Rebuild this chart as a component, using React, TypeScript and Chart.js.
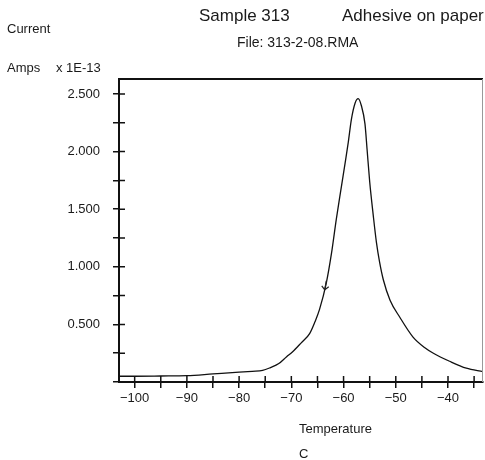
import React, { useEffect, useRef } from "react";
import { Chart, registerables } from "chart.js";

Chart.register(...registerables);

// Temperature (C) and current (x 1E-13 Amps)
const temperatures = [
  -103, -100, -95, -90, -85, -80, -77.5, -75.5, -74, -72.4, -70.9, -69.8, -68.1,
  -66.5, -65.5, -64.6, -63.3, -62.3, -61.4, -60.4, -59.6, -59.1, -58.5, -57.8,
  -57.2, -56.6, -55.9, -55.5, -55.0, -54.3, -53.7, -53.1, -52.4, -51.1, -49.2,
  -46.7, -44.5, -42.8, -39.7, -36.5, -33.3,
];
const currents = [
  0.05, 0.05, 0.052, 0.055, 0.07, 0.085, 0.093, 0.1, 0.125, 0.16, 0.22, 0.26, 0.34,
  0.42, 0.52, 0.63, 0.86, 1.12, 1.41, 1.7, 1.93, 2.08, 2.28, 2.42,
  2.46, 2.4, 2.24, 2.02, 1.74, 1.44, 1.21, 1.04, 0.89, 0.71, 0.56,
  0.39, 0.3, 0.25, 0.18, 0.12, 0.09,
];
// hand-drawn arrow annotation on the curve
const markerTemps = [-63.6];
const markerCurrents = [0.8];

const xMin = -103;
const xMax = -33.3;
const yMin = 0;
const yMax = 2.63;

const FONT = "'Liberation Sans', Arial, Helvetica, sans-serif";

const crossTicks = {
  id: "crossTicks",
  afterDraw(chart: any) {
    const { ctx, chartArea, scales } = chart;
    const x = scales.x;
    const y = scales.y;
    ctx.save();
    ctx.strokeStyle = "#111";
    ctx.lineWidth = 1.5;
    ctx.beginPath();
    x.ticks.forEach((t: any) => {
      const px = x.getPixelForValue(t.value);
      ctx.moveTo(px, chartArea.bottom);
      ctx.lineTo(px, chartArea.bottom - 6);
    });
    y.ticks.forEach((t: any) => {
      if (t.value <= yMin) return;
      const py = y.getPixelForValue(t.value);
      ctx.moveTo(chartArea.left, py);
      ctx.lineTo(chartArea.left + 6, py);
    });
    ctx.stroke();
    // top frame
    ctx.lineWidth = 2;
    ctx.beginPath();
    ctx.moveTo(chartArea.left, chartArea.top);
    ctx.lineTo(chartArea.right, chartArea.top);
    ctx.stroke();
    // right frame (faint)
    ctx.strokeStyle = "#999";
    ctx.lineWidth = 1;
    ctx.beginPath();
    ctx.moveTo(chartArea.right - 0.5, chartArea.top);
    ctx.lineTo(chartArea.right - 0.5, chartArea.bottom);
    ctx.stroke();
    // arrow annotation
    ctx.strokeStyle = "#222";
    ctx.lineWidth = 1.2;
    markerTemps.forEach((mt, i) => {
      const px = x.getPixelForValue(mt);
      const py = y.getPixelForValue(markerCurrents[i]);
      ctx.beginPath();
      ctx.moveTo(px, py);
      ctx.lineTo(px + 1.5, py - 9);
      ctx.moveTo(px, py);
      ctx.lineTo(px - 3, py - 4);
      ctx.moveTo(px, py);
      ctx.lineTo(px + 4, py - 3);
      ctx.stroke();
    });
    ctx.restore();
  },
};

function Label({ text, left, cy, size }: { text: string; left: number; cy: number; size: number }) {
  return (
    <div
      style={{
        position: "absolute",
        left,
        top: cy - size / 2,
        fontFamily: FONT,
        fontSize: size,
        lineHeight: `${size}px`,
        color: "#1a1a1a",
        whiteSpace: "nowrap",
      }}
    >
      {text}
    </div>
  );
}

export default function App() {
  const canvasRef = useRef<HTMLCanvasElement | null>(null);

  useEffect(() => {
    document.body.style.margin = "0";
    const canvas = canvasRef.current;
    if (!canvas) return;
    const chart = new Chart(canvas, {
      type: "line",
      data: {
        datasets: [
          {
            data: temperatures.map((t, i) => ({ x: t, y: currents[i] })),
            borderColor: "#111",
            borderWidth: 1.3,
            pointRadius: 0,
            fill: false,
            cubicInterpolationMode: "monotone",
          },
        ],
      },
      options: {
        animation: false,
        responsive: false,
        maintainAspectRatio: false,
        layout: { padding: { top: 79, right: 2, left: 0, bottom: 0 } },
        plugins: { legend: { display: false }, tooltip: { enabled: false } },
        scales: {
          x: {
            type: "linear",
            min: xMin,
            max: xMax,
            afterFit: (s: any) => {
              s.height = 78;
            },
            border: { display: true, color: "#111", width: 2 },
            grid: {
              display: true,
              drawOnChartArea: false,
              drawTicks: true,
              tickLength: 6,
              color: "#111",
              lineWidth: 1.5,
            },
            ticks: {
              stepSize: 5,
              includeBounds: false,
              autoSkip: false,
              maxRotation: 0,
              padding: 3,
              color: "#1a1a1a",
              font: { family: FONT, size: 13 },
              callback: (v: any) => {
                const n = Number(v);
                if (Math.abs(n % 10) > 1e-6) return "";
                return n < 0 ? "\u2212" + Math.abs(n) : String(n);
              },
            },
          },
          y: {
            type: "linear",
            min: yMin,
            max: yMax,
            afterFit: (s: any) => {
              s.width = 119;
            },
            border: { display: true, color: "#111", width: 2 },
            grid: {
              display: true,
              drawOnChartArea: false,
              drawTicks: true,
              tickLength: 6,
              color: "#111",
              lineWidth: 1.5,
            },
            ticks: {
              stepSize: 0.25,
              includeBounds: false,
              autoSkip: false,
              padding: 13,
              color: "#1a1a1a",
              font: { family: FONT, size: 13 },
              callback: (v: any) => {
                const n = Number(v);
                if (n <= 0) return "";
                if (Math.abs(n * 2 - Math.round(n * 2)) > 1e-6) return "";
                return n.toFixed(3);
              },
            },
          },
        },
      },
      plugins: [crossTicks],
    } as any);
    return () => chart.destroy();
  }, []);

  return (
    <div style={{ position: "relative", width: 485, height: 460, background: "#fff", overflow: "hidden" }}>
      <canvas ref={canvasRef} width={485} height={460} style={{ position: "absolute", left: 0, top: 0, width: 485, height: 460 }} />
      <Label text="Sample 313" left={199} cy={15} size={17} />
      <Label text="Adhesive on paper" left={342} cy={15} size={17} />
      <Label text="File: 313-2-08.RMA" left={237} cy={42} size={14} />
      <Label text="Current" left={7} cy={28} size={13} />
      <Label text="Amps" left={7} cy={67} size={13} />
      <Label text="x 1E-13" left={56} cy={67} size={13} />
      <Label text="Temperature" left={299} cy={428} size={13} />
      <Label text="C" left={299} cy={453} size={13} />
    </div>
  );
}
